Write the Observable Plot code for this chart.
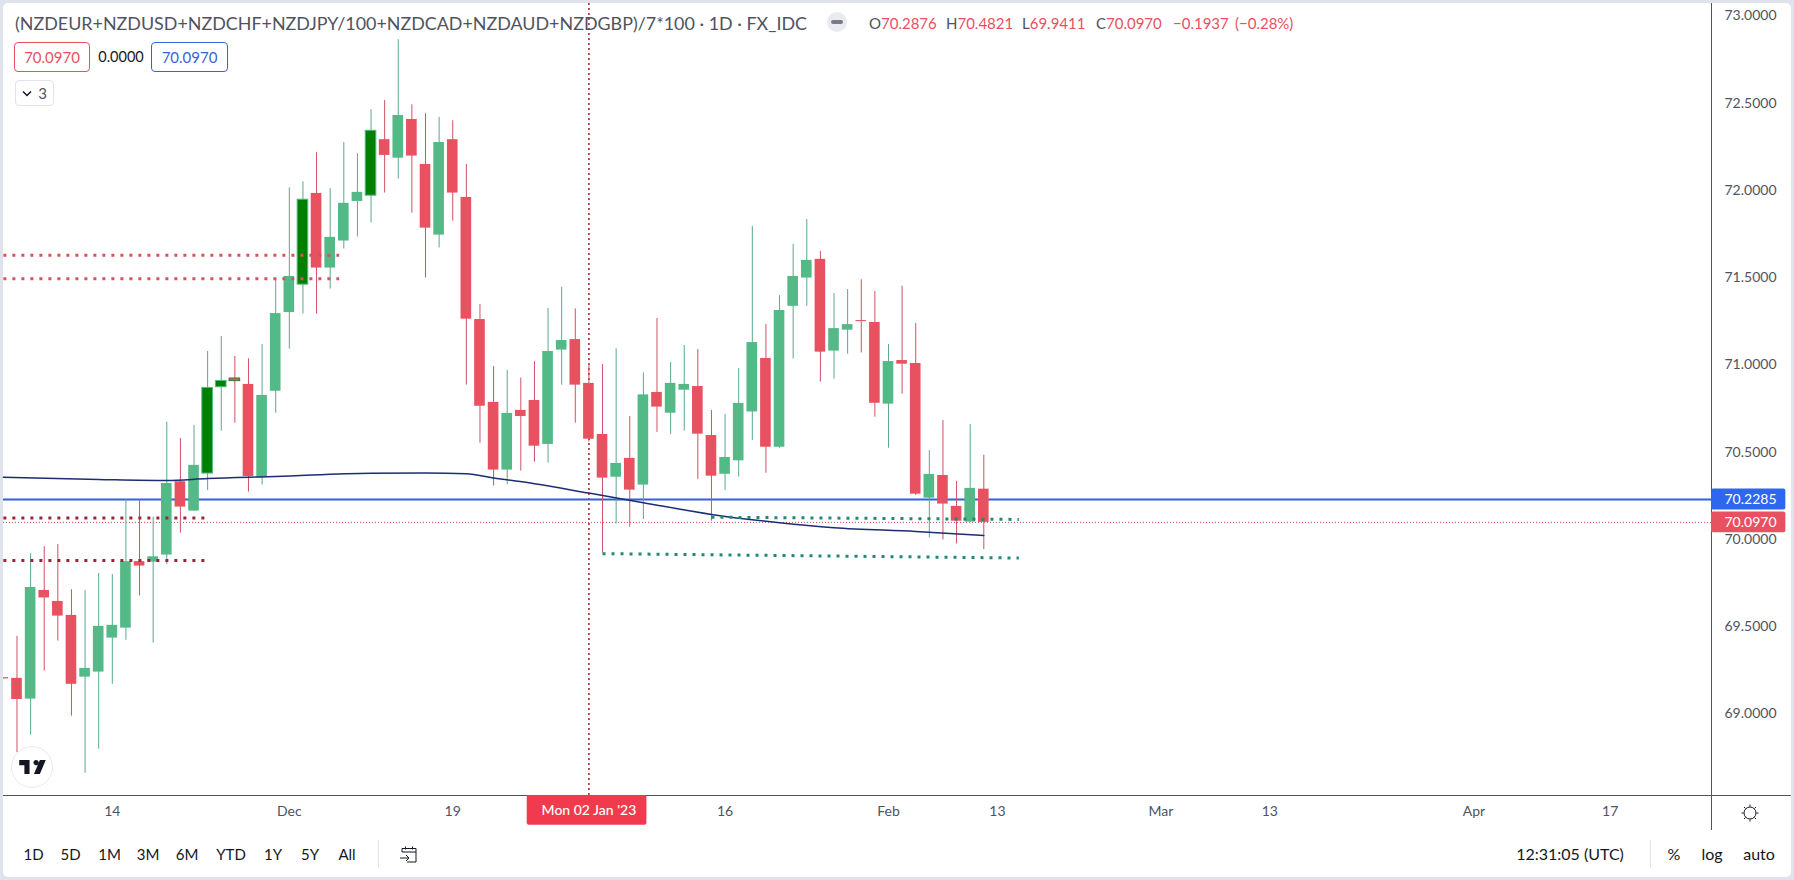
<!DOCTYPE html>
<html><head><meta charset="utf-8">
<script src="https://cdn.jsdelivr.net/npm/d3@7"></script>
<script src="https://cdn.jsdelivr.net/npm/@observablehq/plot@0.6"></script>
<style>
html,body{margin:0;padding:0;width:1794px;height:880px;overflow:hidden;background:#e0e3eb;font-family:Lato,"Noto Sans",sans-serif}
#frame{position:absolute;left:3px;top:3px;width:1788px;height:874px;background:#fff;border-radius:5px}
#chart{position:absolute;left:0;top:0}
.t{position:absolute;white-space:nowrap;transform:translate(-50%,-50%);font-size:15px;color:#131722;line-height:1}
.l{position:absolute;white-space:nowrap;transform:translateY(-50%);line-height:1}
.o{font-size:15px;color:#e8505f;top:23px}
.o b{font-weight:400;color:#50535e}
.box{position:absolute;box-sizing:border-box;border:1px solid;border-radius:4px;display:flex;align-items:center;justify-content:center;font-size:15px;background:#fff}
.sep{position:absolute;width:1px;background:#e0e3eb}
svg.ic{position:absolute;overflow:visible}
</style></head><body>
<div id="frame"></div>
<div id="chart"></div>

<div class="l" style="left:15px;top:24px;font-size:17.9px;color:#50535e">(NZDEUR+NZDUSD+NZDCHF+NZDJPY/100+NZDCAD+NZDAUD+NZDGBP)/7*100 · 1D · FX_IDC</div>
<div style="position:absolute;left:827px;top:12px;width:20px;height:20px;border-radius:50%;background:#e9ebf1"></div>
<div style="position:absolute;left:831px;top:20px;width:12px;height:4px;border-radius:2px;background:#787b86"></div>
<div class="l o" style="left:869px"><b>O</b>70.2876</div>
<div class="l o" style="left:946px"><b>H</b>70.4821</div>
<div class="l o" style="left:1022px"><b>L</b>69.9411</div>
<div class="l o" style="left:1096px"><b>C</b>70.0970</div>
<div class="l o" style="left:1173px">−0.1937</div>
<div class="l o" style="left:1235px">(−0.28%)</div>

<div class="box" style="left:14px;top:42px;width:76px;height:30px;border-color:#e8505f;color:#e8505f">70.0970</div>
<div class="t" style="left:121px;top:57px;font-size:14.5px">0.0000</div>
<div class="box" style="left:151px;top:42px;width:77px;height:30px;border-color:#3a62d8;color:#3a62d8">70.0970</div>
<div class="box" style="left:15px;top:80px;width:39px;height:26px;border-color:#e0e3eb;color:#50535e">
  <svg width="10" height="7" viewBox="0 0 10 7" style="margin-right:6px"><path d="M1 1.5l4 4 4-4" fill="none" stroke="#131722" stroke-width="1.5"/></svg>3</div>

<div style="position:absolute;left:11px;top:746px;width:42px;height:42px;box-sizing:border-box;border-radius:50%;background:#fff;border:1px solid #e9e9ee"></div>
<svg class="ic" style="left:19px;top:760px" width="27" height="14" viewBox="0 0 36 19"><path d="M14 0H0v7h7v12h7V0Zm14 19h-8L28 0h8l-8 19ZM22 7a3.6 3.6 0 1 0 0-7 3.6 3.6 0 0 0 0 7Z" fill="#131722"/></svg>

<div class="t" style="left:33.5px;top:854px">1D</div>
<div class="t" style="left:70.5px;top:854px">5D</div>
<div class="t" style="left:109.5px;top:854px">1M</div>
<div class="t" style="left:148px;top:854px">3M</div>
<div class="t" style="left:187px;top:854px">6M</div>
<div class="t" style="left:231px;top:854px">YTD</div>
<div class="t" style="left:273px;top:854px">1Y</div>
<div class="t" style="left:310px;top:854px">5Y</div>
<div class="t" style="left:347px;top:854px">All</div>
<div class="sep" style="left:378px;top:840px;height:28px"></div>
<svg class="ic" style="left:399px;top:844px" width="20" height="20" viewBox="0 0 20 20"><path d="M3 8V4.5h14V18H8M3 8h14M6.5 2.5v3M13.5 2.5v3M1 14h9M7 11l3 3-3 3" fill="none" stroke="#131722" stroke-width="1"/></svg>
<div class="t" style="left:1570px;top:854px;font-size:16px">12:31:05 (UTC)</div>
<div class="sep" style="left:1650px;top:840px;height:28px"></div>
<div class="t" style="left:1674px;top:854px;font-size:16px">%</div>
<div class="t" style="left:1712px;top:854px;font-size:16px">log</div>
<div class="t" style="left:1759px;top:854px;font-size:16px">auto</div>
<svg class="ic" style="left:1740px;top:803px" width="20" height="20" viewBox="0 0 20 20"><circle cx="10" cy="10" r="6" fill="none" stroke="#131722" stroke-width="1"/><path d="M10 1.500v2M10 16.500v2M1.500 10h2M16.500 10h2M4 4l1.500 1.500M14.500 14.500L16 16M16 4l-1.500 1.500M5.500 14.500L4 16" stroke="#131722" stroke-width="1"/></svg>

<script>
// Candle index runs from -1 (the partly hidden bar at the left edge) upward.
const firstIndex = -1;
const opens = [69.207,69.203,69.084,69.707,69.644,69.564,69.210,69.239,69.434,69.491,69.872,69.869,69.910,70.330,70.162,70.377,70.872,70.922,70.888,70.354,70.849,71.300,71.460,71.983,71.555,71.710,71.937,71.970,72.291,72.185,72.407,72.149,71.744,72.291,71.960,71.260,70.785,70.397,70.739,70.796,70.544,71.085,71.145,70.894,70.601,70.356,70.464,70.311,70.842,70.723,70.855,70.876,70.595,70.373,70.450,70.730,71.037,70.528,71.336,71.498,71.605,71.079,71.199,71.254,71.243,70.775,71.025,71.008,70.236,70.366,70.189,70.099,70.2876];
const closes = [69.200,69.082,69.724,69.664,69.560,69.169,69.260,69.501,69.507,69.872,69.847,69.900,70.320,70.185,70.424,70.868,70.908,70.907,70.360,70.825,71.294,71.507,71.947,71.555,71.731,71.926,71.989,72.342,72.201,72.430,72.197,71.784,72.275,71.985,71.262,70.763,70.397,70.722,70.704,70.534,71.077,71.140,70.884,70.574,70.351,70.435,70.282,70.828,70.758,70.894,70.888,70.603,70.362,70.469,70.779,71.128,70.528,71.312,71.507,71.599,71.073,71.208,71.231,71.248,70.780,71.019,71.004,70.259,70.372,70.202,70.104,70.292,70.0970];
const highs = [69.207,69.444,69.918,69.958,69.971,69.711,69.707,69.804,69.798,70.227,70.227,70.127,70.672,70.577,70.653,71.077,71.163,71.048,71.035,71.117,71.494,72.015,72.049,72.216,72.010,72.274,72.211,72.463,72.516,72.864,72.491,72.440,72.419,72.400,72.149,71.346,70.991,70.968,70.925,71.019,71.323,71.445,71.321,71.007,71.002,71.092,70.704,70.954,71.266,71.014,71.111,71.088,70.739,70.716,70.980,71.794,71.232,71.397,71.691,71.834,71.651,71.409,71.432,71.488,71.421,71.117,71.451,71.237,70.509,70.681,70.332,70.658,70.4821];
const lows = [69.200,68.778,68.877,69.245,69.417,68.986,68.659,68.797,69.169,69.421,69.675,69.405,69.855,70.036,70.162,70.280,70.620,70.666,70.271,70.311,70.723,71.090,71.291,71.291,71.435,71.664,71.733,71.813,71.985,72.065,71.870,71.498,71.670,71.824,70.884,70.551,70.305,70.313,70.391,70.442,70.437,70.884,70.666,70.557,69.921,70.089,70.070,70.114,70.613,70.601,70.620,70.343,70.104,70.280,70.356,70.566,70.379,70.522,71.033,71.336,70.901,70.918,71.062,71.068,70.700,70.522,70.832,70.252,70.007,69.996,69.973,70.097,69.9411];
const darkGreenBars = [14,15,21,26];
const mixedBars = [16];

const smaIndex = [-1,6,11,14,19,26,30,33,35,38,42,46,51,56,60,66,71];
const smaValue = [70.356,70.343,70.337,70.349,70.360,70.379,70.380,70.376,70.351,70.319,70.265,70.210,70.143,70.095,70.067,70.045,70.022];

const dottedLevels = [
  {x1:-1,x2:23.66,y1:71.629,y2:71.629,c:"#d9505f"},
  {x1:-1,x2:23.66,y1:71.494,y2:71.494,c:"#d9505f"},
  {x1:-1,x2:13.77,y1:70.122,y2:70.122,c:"#9c2437"},
  {x1:-1,x2:13.77,y1:69.879,y2:69.879,c:"#9c2437"},
  {x1:51,x2:73.57,y1:70.127,y2:70.114,c:"#1f8a70"},
  {x1:43,x2:73.57,y1:69.918,y2:69.893,c:"#1f8a70"}
];
const blueLevel = 70.2285;
const lastClose = 70.0970;
const crosshairIndex = 42;
const crosshairLabel = "Mon 02 Jan '23";

const yTicks = [69,69.5,70,70.5,71,71.5,72,72.5,73];
const xTickIndex = [7,20,32,52,64,72,84,92,107,117];
const xTickLabel = ["14","Dec","19","16","Feb","13","Mar","13","Apr","17"];

const GREEN="#53b987", RED="#e8515f", DARK="#008000";
const candles = opens.map((o,k)=>{
  const i=k+firstIndex, c=closes[k];
  const up=c>=o;
  return {i,o,c,h:highs[k],l:lows[k],top:Math.max(o,c),bot:Math.min(o,c),
    wick:up?"#5aa98a":"#cf5263",
    fill:darkGreenBars.includes(i)?DARK:up?GREEN:RED,
    edge:darkGreenBars.includes(i)?GREEN:mixedBars.includes(i)?"#2e7d32":"none"};
});
const sma = smaIndex.map((x,k)=>({x,y:smaValue[k]}));

const xMin=-0.991,xMax=124.44,yMin=68.5315,yMax=73.0717;
const plot = Plot.plot({
  width:1794,height:880,
  marginLeft:3,marginRight:83,marginTop:3,marginBottom:85,
  style:{background:"transparent",fontFamily:"Lato, 'Noto Sans', sans-serif",fontSize:"14px"},
  x:{type:"linear",domain:[xMin,xMax],axis:null},
  y:{type:"linear",domain:[yMin,yMax],axis:null},
  color:{type:"identity"},
  marks:[
    Plot.ruleX([crosshairIndex],{y1:yMin,y2:yMax,stroke:"#b83c4c",strokeWidth:1.8,strokeDasharray:"2 3"}),
    Plot.ruleY([lastClose],{x1:xMin,x2:xMax,stroke:"#c8505f",strokeWidth:1,strokeDasharray:"1 2"}),
    Plot.ruleY([blueLevel],{x1:xMin,x2:xMax,stroke:"#3460d8",strokeWidth:2}),
    Plot.ruleX(candles,{x:"i",y1:"l",y2:"h",stroke:"wick",strokeWidth:1,clip:"frame"}),
    Plot.rect(candles,{x1:d=>d.i-0.39,x2:d=>d.i+0.39,y1:"bot",y2:"top",fill:"fill",stroke:"edge",strokeWidth:1,clip:"frame",inset:0}),
    Plot.line(sma,{x:"x",y:"y",stroke:"#1d2d74",strokeWidth:1.5,curve:"monotone-x"}),
    Plot.link(dottedLevels,{x1:"x1",x2:"x2",y1:"y1",y2:"y2",stroke:"c",strokeWidth:3,strokeDasharray:"3 6",clip:"frame"}),
    Plot.ruleY([yMin],{x1:xMin,x2:130.3,stroke:"#50535e",strokeWidth:1}),
    Plot.ruleX([xMax],{y1:68.331,y2:yMax,stroke:"#50535e",strokeWidth:1}),
    Plot.axisY(yTicks,{anchor:"right",tickSize:0,tickPadding:13,tickFormat:d=>d.toFixed(4),color:"#50535e",label:null}),
    Plot.axisX(xTickIndex,{anchor:"bottom",tickSize:0,tickPadding:11,tickFormat:d=>xTickLabel[xTickIndex.indexOf(d)],color:"#50535e",label:null}),
    // price tags on the scale, at their own values
    Plot.rect([blueLevel],{x1:xMax,x2:129.9,y1:d=>d-0.06,y2:d=>d+0.06,fill:"#2f66f0",rx:2}),
    Plot.rect([lastClose],{x1:xMax,x2:129.9,y1:d=>d-0.059,y2:d=>d+0.059,fill:"#e8515f",rx:2}),
    Plot.text([blueLevel],{x:xMax,y:d=>d,dx:13,text:d=>d.toFixed(4),textAnchor:"start",fill:"#fff"}),
    Plot.text([lastClose],{x:xMax,y:d=>d,dx:13,text:d=>d.toFixed(4),textAnchor:"start",fill:"#fff"}),
    // crosshair date tag under the time axis
    Plot.rect([crosshairIndex],{x1:37.47,x2:46.26,y1:yMin,y2:68.361,fill:"#ef3b4d",rx:2}),
    Plot.text([crosshairLabel],{x:crosshairIndex,y:68.445,text:d=>d,fill:"#fff",fontWeight:500})
  ]
});
document.getElementById("chart").append(plot);
</script>
</body></html>
